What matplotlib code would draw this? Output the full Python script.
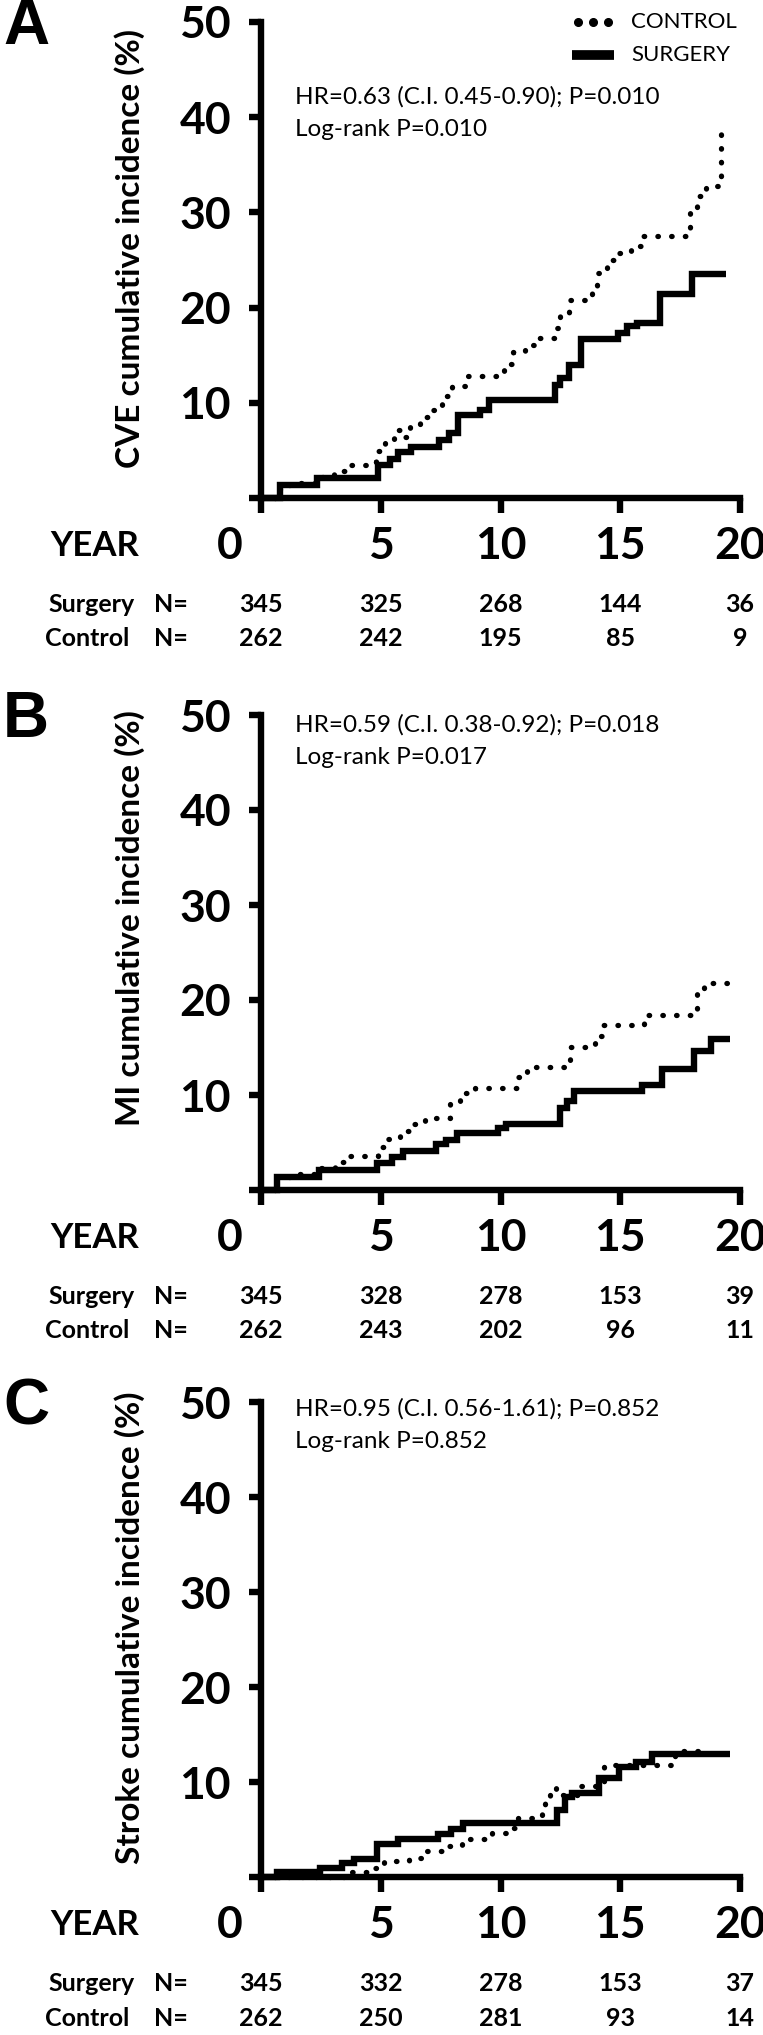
import matplotlib
matplotlib.use('Agg')
import matplotlib.pyplot as plt
from matplotlib.lines import Line2D
from matplotlib import transforms

plt.rcParams['font.family'] = ['Lato', 'DejaVu Sans']

W, H = 763, 2035

year_ticks = [0, 5, 10, 15, 20]
year_labels = ['0', '5', '10', '15', '20']
y_ticks = [0, 10, 20, 30, 40, 50]
y_labels = ['', '10', '20', '30', '40', '50']

# panel A - CVE
cve_surgery_t = [0, 0.78, 2.33, 4.9, 5.4, 5.7, 6.26, 7.42, 7.83, 8.24, 9.14, 9.5,
                 12.26, 12.5, 12.84, 13.38, 14.9, 15.3, 15.7, 16.64, 18.0, 19.4]
cve_surgery_v = [0, 1.33, 2.1, 3.5, 4.1, 4.8, 5.4, 6.1, 6.8, 8.7, 9.2, 10.3,
                 11.85, 12.6, 14.0, 16.7, 17.3, 18.1, 18.4, 21.4, 23.5, 23.5]
cve_control_t = [0, 0.78, 1.27, 2.34, 3.04, 3.65, 4.44, 4.8, 5.18, 5.57, 5.83, 6.22,
                 6.65, 7.15, 7.56, 7.97, 8.57, 10.13, 10.54, 11.03, 11.52, 12.26, 12.5,
                 12.84, 13.82, 14.04, 14.43, 14.93, 15.44, 15.9, 17.9, 18.2, 18.6, 19.2]
cve_control_v = [0, 1.33, 1.57, 2.16, 2.86, 3.42, 3.83, 4.98, 6.0, 7.15, 6.45, 7.5,
                 8.54, 9.2, 10.7, 11.75, 12.8, 14.05, 15.35, 16.07, 16.84, 17.85, 19.25,
                 20.8, 22.3, 23.6, 25.0, 25.7, 26.5, 27.5, 30.3, 31.7, 32.8, 38.9]
cve_surgery_n = [345, 325, 268, 144, 36]
cve_control_n = [262, 242, 195, 85, 9]

# panel B - MI
mi_surgery_t = [0, 0.66, 2.41, 4.83, 5.49, 5.91, 7.31, 7.73, 8.19, 9.9, 10.25,
                12.49, 12.77, 13.05, 15.92, 16.74, 18.1, 18.8, 19.57]
mi_surgery_v = [0, 1.4, 2.1, 2.8, 3.5, 4.1, 4.8, 5.3, 5.96, 6.5, 6.9,
                8.6, 9.4, 10.45, 11.1, 12.7, 14.6, 15.9, 15.9]
mi_control_t = [0, 0.66, 1.22, 2.31, 3.07, 3.6, 4.89, 5.32, 5.81, 6.36, 6.86, 7.89,
                8.32, 8.94, 10.71, 11.11, 12.7, 12.91, 13.94, 14.27, 16.0, 18.2, 18.5, 19.5]
mi_control_v = [0, 1.4, 1.65, 2.28, 2.98, 3.58, 4.49, 5.33, 6.2, 6.9, 7.56, 9.12,
                10.25, 10.77, 11.86, 12.9, 13.7, 15.0, 16.2, 17.4, 18.4, 20.8, 21.8, 21.8]
mi_surgery_n = [345, 328, 278, 153, 39]
mi_control_n = [262, 243, 202, 96, 11]

# panel C - Stroke
st_surgery_t = [0, 0.66, 2.48, 3.39, 3.88, 4.83, 5.7, 7.41, 7.94, 8.43, 12.35,
                12.7, 12.97, 14.1, 14.95, 15.64, 16.34, 19.6]
st_surgery_v = [0, 0.56, 0.9, 1.44, 1.86, 3.44, 3.96, 4.53, 5.1, 5.7, 7.05,
                8.45, 8.8, 10.4, 11.55, 12.1, 12.9, 12.9]
st_control_t = [0, 3.6, 4.47, 5.14, 6.19, 6.68, 7.87, 8.39, 9.65, 10.21, 10.74,
                11.72, 11.86, 12.07, 12.31, 13.3, 14.31, 17.3, 18.7]
st_control_v = [0, 0.56, 0.98, 1.72, 1.98, 2.74, 3.26, 3.96, 4.6, 5.12, 6.25,
                6.6, 8.0, 9.33, 8.63, 9.6, 11.8, 13.3, 13.3]
st_surgery_n = [345, 332, 278, 153, 37]
st_control_n = [262, 250, 281, 93, 14]

panels = [
    dict(letter='A', ylabel='CVE cumulative incidence (%)', y50=22, y0=498, ylab_c=248,
         hr='HR=0.63 (C.I. 0.45-0.90); P=0.010', lr='Log-rank P=0.010', hr_y=97,
         st=cve_surgery_t, sv=cve_surgery_v, ct=cve_control_t, cv=cve_control_v,
         sn=cve_surgery_n, cn=cve_control_n),
    dict(letter='B', ylabel='MI cumulative incidence (%)', y50=715, y0=1190, ylab_c=918,
         hr='HR=0.59 (C.I. 0.38-0.92); P=0.018', lr='Log-rank P=0.017', hr_y=725,
         st=mi_surgery_t, sv=mi_surgery_v, ct=mi_control_t, cv=mi_control_v,
         sn=mi_surgery_n, cn=mi_control_n),
    dict(letter='C', ylabel='Stroke cumulative incidence (%)', y50=1402, y0=1877, ylab_c=1628,
         hr='HR=0.95 (C.I. 0.56-1.61); P=0.852', lr='Log-rank P=0.852', hr_y=1409,
         st=st_surgery_t, sv=st_surgery_v, ct=st_control_t, cv=st_control_v,
         sn=st_surgery_n, cn=st_control_n),
]


def fx(px):
    return px / W


def fy(py):
    return 1 - py / H


fig = plt.figure(figsize=(W / 100, H / 100), dpi=100)
LW = 4.6

for p in panels:
    ax = fig.add_axes([fx(261), fy(p['y0']), fx(740) - fx(261), (p['y0'] - p['y50']) / H])
    ax.step(p['ct'], p['cv'], where='post', color='black', lw=3.8,
            linestyle=(0, (0.1, 2.5)), dash_capstyle='round', zorder=2, clip_on=False)
    ax.step(p['st'], p['sv'], where='post', color='black', lw=LW,
            solid_capstyle='butt', solid_joinstyle='miter', zorder=3, clip_on=False)
    ax.set_xlim(0, 20)
    ax.set_ylim(0, 50)
    for s in ['top', 'right']:
        ax.spines[s].set_visible(False)
    for s in ['left', 'bottom']:
        ax.spines[s].set_linewidth(LW)
    ax.set_xticks(year_ticks)
    ax.set_xticklabels([])
    ax.set_yticks(y_ticks)
    ax.set_yticklabels(y_labels, fontsize=32, fontweight='bold')
    ax.tick_params(axis='y', length=8.6, width=LW, pad=13)
    ax.tick_params(axis='x', length=10.8, width=LW)

    trans = transforms.blended_transform_factory(ax.transData, fig.transFigure)
    shift = transforms.ScaledTranslation(-0.31, 0, fig.dpi_scale_trans)
    y0 = p['y0']
    for yr, lab in zip(year_ticks, year_labels):
        tr = trans + shift if yr == 0 else trans
        ax.text(yr, fy(y0 + 48), lab, transform=tr, ha='center', va='center',
                fontsize=32, fontweight='bold')
    fig.text(fx(50), fy(y0 + 48), 'YEAR', ha='left', va='center', fontsize=25, fontweight='bold')

    for name, nums, dy in [('Surgery', p['sn'], 106), ('Control', p['cn'], 141)]:
        fig.text(fx(48 if name == 'Surgery' else 45), fy(y0 + dy), name, ha='left',
                 va='center', fontsize=18, fontweight='bold')
        fig.text(fx(154), fy(y0 + dy), 'N=', ha='left', va='center', fontsize=18, fontweight='bold')
        for yr, n in zip(year_ticks, nums):
            ax.text(yr, fy(y0 + dy), str(n), transform=trans, ha='center', va='center',
                    fontsize=18, fontweight='bold')

    fig.text(fx(130), fy(p['ylab_c']), p['ylabel'], rotation=90, ha='center', va='center',
             fontsize=24, fontweight='bold')
    fig.text(fx(3), fy(p['y50'] + 5), p['letter'], ha='left', va='center', fontsize=46,
             fontweight='bold', family=['Liberation Sans', 'DejaVu Sans'])
    fig.text(fx(295), fy(p['hr_y']), p['hr'], ha='left', va='center', fontsize=17.5)
    fig.text(fx(295), fy(p['hr_y'] + 32), p['lr'], ha='left', va='center', fontsize=17.5)

# legend (panel A)
fig.add_artist(Line2D([fx(578), fx(593), fx(608)], [fy(22)] * 3, transform=fig.transFigure,
                      linestyle='none', marker='o', markersize=5.5, color='black'))
fig.add_artist(Line2D([fx(572), fx(614)], [fy(55)] * 2, transform=fig.transFigure,
                      lw=7, color='black', solid_capstyle='butt'))
fig.text(fx(631), fy(22), 'CONTROL', ha='left', va='center', fontsize=16)
fig.text(fx(631), fy(55), 'SURGERY', ha='left', va='center', fontsize=16)

fig.savefig('out.png', dpi=100, facecolor='white')
